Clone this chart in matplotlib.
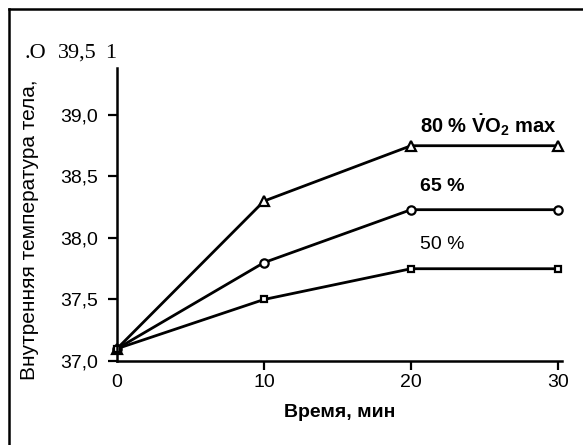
import matplotlib
matplotlib.use("Agg")
import matplotlib.pyplot as plt
from matplotlib.lines import Line2D

plt.rcParams['font.family'] = ['Liberation Sans', 'DejaVu Sans']
plt.rcParams['mathtext.fontset'] = 'custom'
plt.rcParams['mathtext.rm'] = 'Liberation Sans'
plt.rcParams['mathtext.bf'] = 'Liberation Sans:bold'
plt.rcParams['mathtext.it'] = 'Liberation Sans:italic'

# Time points (min) and core body temperature (°C) at three exercise intensities
time_min = [0, 10, 20, 30]
temp_80 = [37.1, 38.3, 38.75, 38.75]
temp_65 = [37.1, 37.8, 38.23, 38.23]
temp_50 = [37.1, 37.5, 37.75, 37.75]

x_ticks = [0, 10, 20, 30]
y_ticks = [37.0, 37.5, 38.0, 38.5, 39.0]
y_tick_labels = ['37,0', '37,5', '38,0', '38,5', '39,0']

fig = plt.figure(figsize=(5.83, 4.45), dpi=100)
ax = fig.add_axes([0.2007, 0.1888, 0.764, 0.7187])

line_kw = dict(color='black', lw=2.0, markerfacecolor='white',
               markeredgecolor='black', markeredgewidth=1.6, clip_on=False)
ax.plot(time_min, temp_80, marker='^', markersize=6.5, **line_kw)
ax.plot(time_min, temp_65, marker='o', markersize=6, **line_kw)
ax.plot(time_min, temp_50, marker='s', markersize=5, **line_kw)

ax.set_xlim(0, 30.3)
ax.set_ylim(37.0, 39.6)
ax.set_xticks(x_ticks)
ax.set_xticklabels([str(t) for t in x_ticks])
ax.set_yticks(y_ticks)
ax.set_yticklabels(y_tick_labels)

for s in ('top', 'right'):
    ax.spines[s].set_visible(False)
for s in ('left', 'bottom'):
    ax.spines[s].set_linewidth(1.8)
ax.spines['left'].set_bounds(37.0, 39.38)

ax.tick_params(axis='both', direction='out', length=6.5, width=1.6, labelsize=14)
ax.tick_params(axis='y', pad=7)
ax.tick_params(axis='x', pad=3)
ax.xaxis.get_major_ticks()[0].tick1line.set_visible(False)

ax.set_xlabel('Время, мин', fontsize=14, fontweight='bold')
ax.xaxis.set_label_coords(0.5, -0.135)
ax.set_ylabel('Внутренняя температура тела,', fontsize=15)
ax.yaxis.set_label_coords(-0.175, 0.41)

# Top-axis value printed in a serif face
ytr = ax.get_yaxis_transform()
serif_kw = dict(transform=ytr, va='center', fontsize=16, family='Liberation Serif')
ax.text((35 - 117) / 445.4, 39.5, '.O', ha='center', **serif_kw)
ax.text((97 - 117) / 445.4, 39.5, '39,5', ha='right', **serif_kw)
ax.text((111 - 117) / 445.4, 39.5, '1', ha='center', **serif_kw)

# Series labels
ax.text(20.6, 38.92, r'$\mathbf{80\ \%\ \dot{V}O_2\ max}$', fontsize=14.5,
        ha='left', va='center')
ax.text(20.6, 38.42, '65 %', fontsize=14, fontweight='bold', ha='left', va='center')
ax.text(20.6, 37.95, '50 %', fontsize=14, ha='left', va='center')

# Page frame on the left and top
fig.add_artist(Line2D([9 / 583, 9 / 583], [0, 1 - 9 / 445], color='black', lw=1.8))
fig.add_artist(Line2D([9 / 583, 1], [1 - 9 / 445, 1 - 9 / 445], color='black', lw=1.8))

fig.savefig('out.png', dpi=100)
